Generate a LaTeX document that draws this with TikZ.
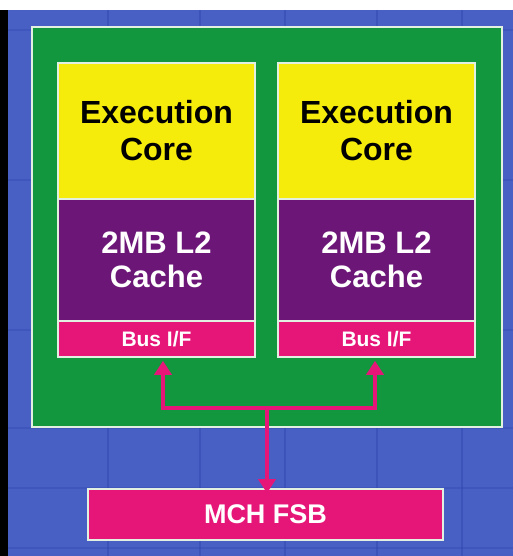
\documentclass[tikz,border=0pt]{standalone}
\usepackage{fontspec}
\setmainfont{Liberation Sans}
\usetikzlibrary{arrows.meta,calc}
\definecolor{bgblue}{RGB}{72,96,196}
\definecolor{gridblue}{RGB}{40,64,170}
\definecolor{diegreen}{RGB}{18,150,62}
\definecolor{coreyellow}{RGB}{246,236,12}
\definecolor{cachepurple}{RGB}{108,22,120}
\definecolor{buspink}{RGB}{230,22,120}
\definecolor{edgewhite}{RGB}{225,240,225}
\tikzset{
  blk/.style={draw=edgewhite, line width=1.6pt, minimum width=197pt, inner sep=0pt, align=center, font=\bfseries},
  corebox/.style={blk, fill=coreyellow, minimum height=136pt, text=black, font=\bfseries\fontsize{32}{37}\selectfont},
  cachebox/.style={blk, fill=cachepurple, minimum height=122pt, text=white, font=\bfseries\fontsize{31}{34}\selectfont},
  busbox/.style={blk, fill=buspink, minimum height=36pt, text=white, font=\bfseries\fontsize{21}{24}\selectfont},
  link/.style={draw=buspink, line width=4pt},
  tip/.style={-{Triangle[width=17pt,length=14pt]}},
}
\begin{document}
\begin{tikzpicture}[x=1pt,y=-1pt]
\useasboundingbox (0,0) rectangle (513,556);
% background
\fill[bgblue] (0,0) rectangle (513,556);
\fill[white] (0,0) rectangle (513,10);
\fill[black] (0,10) rectangle (8,556);
% die texture
\foreach \x in {108,200,285,377,462} {
  \draw[gridblue, line width=2pt, opacity=0.35] (\x,10) -- (\x,556);
}
\foreach \y in {30,180,330,428,488,548} {
  \draw[gridblue, line width=1.5pt, opacity=0.25] (8,\y) -- (513,\y);
}
% die
\node[draw=edgewhite, line width=1.6pt, fill=diegreen, minimum width=470pt, minimum height=400pt, inner sep=0pt] (die) at (267,227) {};
% left column
\node[corebox] (coreL) at (156.5,131) {Execution\\Core};
\node[cachebox] (cacheL) at (156.5,260) {2MB L2\\Cache};
\node[busbox] (busL) at (156.5,339) {Bus I/F};
% right column
\node[corebox] (coreR) at (376.5,131) {Execution\\Core};
\node[cachebox] (cacheR) at (376.5,260) {2MB L2\\Cache};
\node[busbox] (busR) at (376.5,339) {Bus I/F};
% MCH
\node[blk, fill=buspink, minimum width=355pt, minimum height=51pt, text=white, font=\bfseries\fontsize{27}{30}\selectfont] (mch) at (265.5,514.5) {MCH FSB};
% connectors
\coordinate (aL) at ([xshift=6.5pt,yshift=-3pt]busL.south);
\coordinate (aR) at ([xshift=-1.5pt,yshift=-3pt]busR.south);
\coordinate (j) at (267,408);
\draw[link, tip] (j) -| (aL);
\draw[link, tip] (j) -| (aR);
\draw[link, tip] (j) -- ([yshift=-5pt]j |- mch.north);
\end{tikzpicture}
\end{document}
